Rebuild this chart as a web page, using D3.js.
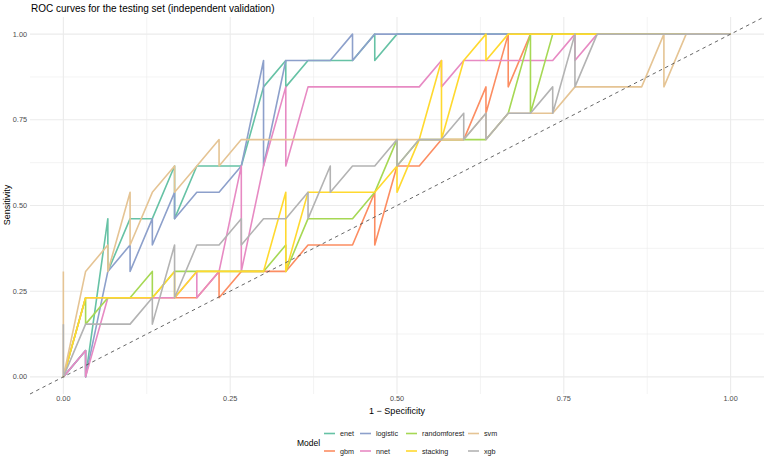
<!DOCTYPE html>
<html lang="en">
<head>
  <meta charset="UTF-8">
  <title>ROC curves</title>
  <style>
    body { margin: 0; background: #fff; }
    text { font-family: "Liberation Sans", Arial, sans-serif; }
  </style>
</head>
<body>
<script src="https://d3js.org/d3.v7.min.js"></script>
<script>
  // test set: 30 controls, 13 cases. For each false-positive count (0..30)
  // the highest and lowest true-positive count reached at that point.
  let nNeg = 30, nPos = 13;
  let models = ["enet", "gbm", "logistic", "nnet", "randomforest", "stacking", "svm", "xgb"];
  let colors = ["#66C2A5", "#FC8D62", "#8DA0CB", "#E78AC3", "#A6D854", "#FFD92F", "#E5C494", "#B3B3B3"];

  let enetTop    = [0,1,6,6,6,8,8,8,8,11,12,12,12,12,13,13,13,13,13,13,13,13,13,13,13,13,13,13,13,13,13];
  let enetBot    = [0,0,4,6,6,6,8,8,8,11,11,12,12,12,12,13,13,13,13,13,13,13,13,13,13,13,13,13,13,13,13];
  let gbmTop     = [0,3,3,3,3,3,3,4,4,4,4,5,5,5,7,8,8,9,9,11,13,13,13,13,13,13,13,13,13,13,13];
  let gbmBot     = [0,3,3,3,3,3,3,3,4,4,4,5,5,5,5,8,8,9,9,10,11,13,13,13,13,13,13,13,13,13,13];
  let logisticTop = [0,1,4,5,6,7,7,7,8,12,12,12,12,13,13,13,13,13,13,13,13,13,13,13,13,13,13,13,13,13,13];
  let logisticBot = [0,0,4,4,5,6,7,7,8,8,12,12,12,12,13,13,13,13,13,13,13,13,13,13,13,13,13,13,13,13,13];
  let nnetTop    = [0,1,3,3,3,3,4,4,8,8,11,11,11,11,11,11,11,12,12,12,12,12,12,13,13,13,13,13,13,13,13];
  let nnetBot    = [0,0,3,3,3,3,3,4,4,8,8,11,11,11,11,11,11,11,12,12,12,12,12,12,13,13,13,13,13,13,13];
  let rfTop      = [0,3,3,3,4,4,4,4,4,4,5,6,6,6,7,9,9,9,9,9,10,13,13,13,13,13,13,13,13,13,13];
  let rfBot      = [0,2,3,3,3,4,4,4,4,4,4,6,6,6,7,8,9,9,9,9,10,10,13,13,13,13,13,13,13,13,13];
  let stackTop   = [0,3,3,3,3,4,4,4,4,4,7,7,7,7,7,8,9,12,12,13,13,13,13,13,13,13,13,13,13,13,13];
  let stackBot   = [0,3,3,3,3,3,4,4,4,4,4,7,7,7,7,7,9,9,12,12,13,13,13,13,13,13,13,13,13,13,13];
  let svmTop     = [4,4,5,7,7,8,8,9,9,9,9,9,9,9,9,9,9,9,9,10,10,10,10,11,11,11,11,13,13,13,13];
  let svmBot     = [0,4,4,5,7,7,8,8,9,9,9,9,9,9,9,9,9,9,9,9,10,10,10,11,11,11,11,11,13,13,13];
  let xgbTop     = [2,2,2,2,3,5,5,5,6,6,6,7,8,8,8,9,9,9,10,10,10,10,11,13,13,13,13,13,13,13,13];
  let xgbBot     = [0,2,2,2,2,3,5,5,5,6,6,6,7,8,8,8,9,9,9,9,10,10,10,11,13,13,13,13,13,13,13];

  let tops = [enetTop, gbmTop, logisticTop, nnetTop, rfTop, stackTop, svmTop, xgbTop];
  let bots = [enetBot, gbmBot, logisticBot, nnetBot, rfBot, stackBot, svmBot, xgbBot];

  let ticks = [0, 0.25, 0.5, 0.75, 1];
  let minorTicks = [0.125, 0.375, 0.625, 0.875];

  let w = 767, h = 458;
  let panel = {left: 30, right: 764, top: 17, bottom: 394};

  let svg = d3.select("body").append("svg")
    .attr("width", w)
    .attr("height", h);

  let x = d3.scaleLinear().domain([-0.05, 1.05]).range([panel.left, panel.right]);
  let y = d3.scaleLinear().domain([-0.05, 1.05]).range([panel.bottom, panel.top]);

  // grid
  let grid = svg.append("g");
  grid.selectAll(".vmin").data(minorTicks).enter().append("line")
    .attr("x1", d => x(d)).attr("x2", d => x(d))
    .attr("y1", panel.top).attr("y2", panel.bottom)
    .attr("stroke", "#EBEBEB").attr("stroke-width", 0.6);
  grid.selectAll(".hmin").data(minorTicks).enter().append("line")
    .attr("y1", d => y(d)).attr("y2", d => y(d))
    .attr("x1", panel.left).attr("x2", panel.right)
    .attr("stroke", "#EBEBEB").attr("stroke-width", 0.6);
  grid.selectAll(".vmaj").data(ticks).enter().append("line")
    .attr("x1", d => x(d)).attr("x2", d => x(d))
    .attr("y1", panel.top).attr("y2", panel.bottom)
    .attr("stroke", "#EBEBEB").attr("stroke-width", 1.1);
  grid.selectAll(".hmaj").data(ticks).enter().append("line")
    .attr("y1", d => y(d)).attr("y2", d => y(d))
    .attr("x1", panel.left).attr("x2", panel.right)
    .attr("stroke", "#EBEBEB").attr("stroke-width", 1.1);

  // roc paths: at each x the points run from high to low sensitivity
  let line = d3.line().x(d => x(d[0])).y(d => y(d[1]));
  let series = models.map(function(m, i) {
    let pts = [];
    for (let j = 0; j <= nNeg; j++) {
      pts.push([j / nNeg, tops[i][j] / nPos]);
      if (bots[i][j] != tops[i][j]) pts.push([j / nNeg, bots[i][j] / nPos]);
    }
    return {model: m, color: colors[i], pts: pts};
  });

  svg.append("g").selectAll("path").data(series).enter().append("path")
    .attr("d", d => line(d.pts))
    .attr("fill", "none")
    .attr("stroke", d => d.color)
    .attr("stroke-width", 1.6)
    .attr("stroke-linejoin", "round");

  // reference diagonal
  svg.append("line")
    .attr("x1", x(-0.05)).attr("y1", y(-0.05))
    .attr("x2", x(1.05)).attr("y2", y(1.05))
    .attr("stroke", "#555").attr("stroke-width", 0.9)
    .attr("stroke-dasharray", "3.5,3.5");

  // axes labels
  svg.append("g").selectAll("text").data(ticks).enter().append("text")
    .attr("x", d => x(d)).attr("y", 401)
    .attr("text-anchor", "middle")
    .attr("font-size", 7.3).attr("fill", "#4D4D4D")
    .text(d => d3.format(".2f")(d));
  svg.append("g").selectAll("text").data(ticks).enter().append("text")
    .attr("x", 27).attr("y", d => y(d) + 2.6)
    .attr("text-anchor", "end")
    .attr("font-size", 7.3).attr("fill", "#4D4D4D")
    .text(d => d3.format(".2f")(d));

  svg.append("text")
    .attr("x", 397).attr("y", 414)
    .attr("text-anchor", "middle").attr("font-size", 9)
    .text("1 \u2212 Specificity");
  svg.append("text")
    .attr("transform", "translate(10,205) rotate(-90)")
    .attr("text-anchor", "middle").attr("font-size", 9)
    .text("Sensitivity");
  svg.append("text")
    .attr("x", 31).attr("y", 12)
    .attr("font-size", 10)
    .text("ROC curves for the testing set (independent validation)");

  // legend, two rows filled by column
  let legend = svg.append("g");
  legend.append("text")
    .attr("x", 297).attr("y", 446)
    .attr("font-size", 8.5).text("Model");
  let colX = [324, 360, 406, 468];
  let rowY = [433.5, 451];
  models.forEach(function(m, i) {
    let cx = colX[Math.floor(i / 2)], cy = rowY[i % 2];
    legend.append("line")
      .attr("x1", cx).attr("x2", cx + 11)
      .attr("y1", cy).attr("y2", cy)
      .attr("stroke", colors[i]).attr("stroke-width", 1.6);
    legend.append("text")
      .attr("x", cx + 16).attr("y", cy + 2.6)
      .attr("font-size", 7.2).attr("fill", "#222")
      .text(m);
  });
</script>
</body>
</html>
